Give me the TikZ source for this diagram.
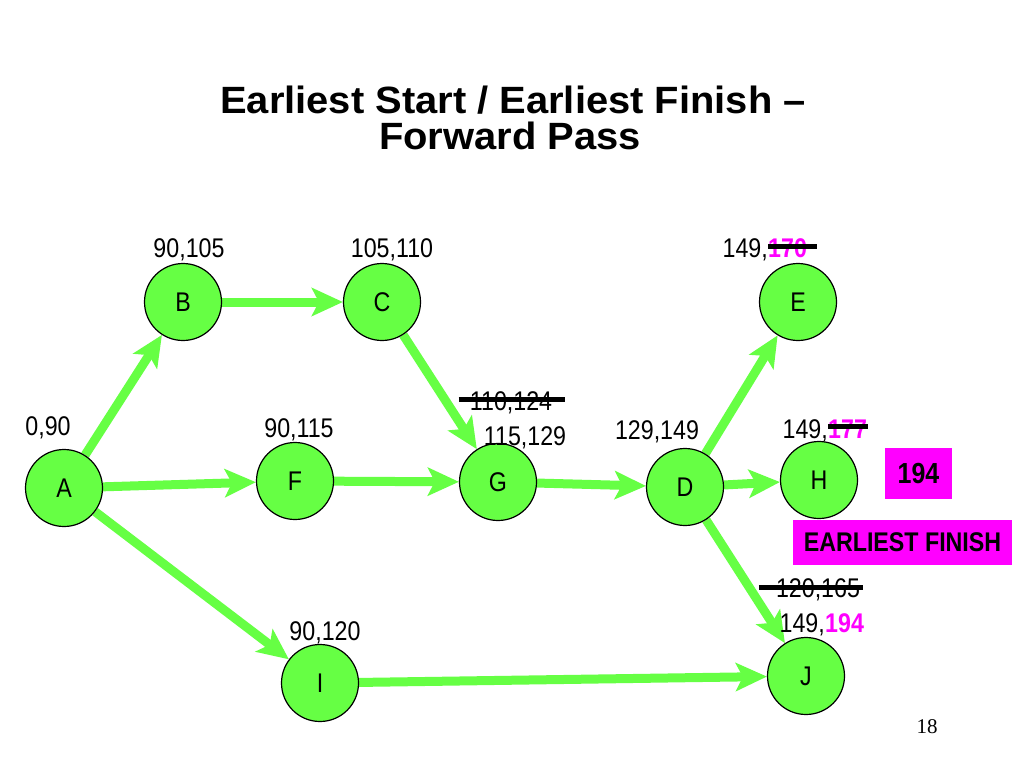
\documentclass[tikz,border=0pt]{standalone}
\usepackage{fontspec}
\setmainfont{Liberation Sans}
\newfontfamily\labfont{Liberation Sans}[FakeStretch=0.86]
\newfontfamily\titlefont{Liberation Sans}[FakeStretch=1.05]
\newfontfamily\numfont{Liberation Serif}
\usetikzlibrary{arrows.meta,calc}
\definecolor{ngreen}{RGB}{102,255,68}
\definecolor{mag}{RGB}{255,0,255}
\pgfdeclarelayer{bgfill}
\pgfdeclarelayer{edges}
\pgfsetlayers{bgfill,edges,main}
\begin{document}
\begin{tikzpicture}[x=1pt,y=-1pt,
  nd/.style={circle, draw=black, line width=1.2pt, fill=ngreen, minimum size=77pt, inner sep=0pt,
    font=\labfont\fontsize{27}{30}\selectfont},
  arr/.style={draw=ngreen, line width=9pt, -{Stealth[length=31pt,width=28pt,inset=7pt]}},
  lab/.style={font=\labfont\fontsize{27}{30}\selectfont, inner sep=0pt},
  mb/.style={font=\labfont\bfseries\fontsize{27}{30}\selectfont, text=mag, inner sep=0pt},
  strike/.style={line width=5pt, draw=black},
  magbox/.style={fill=mag, inner sep=0pt, font=\labfont\bfseries\fontsize{27}{30}\selectfont},
  ttl/.style={font=\titlefont\bfseries\fontsize{38}{42}\selectfont, inner sep=0pt}
]
\begin{pgfonlayer}{bgfill}
\fill[white] (0,0) rectangle (1024,768);
\end{pgfonlayer}
\useasboundingbox (0,0) rectangle (1024,768);

% title
\node[ttl, anchor=base] (t1) at (513,113) {Earliest Start / Earliest Finish –};
\node[ttl, anchor=base] (t2) at (510,149) {Forward Pass};

% nodes
\node[nd] (A) at (64,488) {A};
\node[nd] (B) at (183,302) {B};
\node[nd] (C) at (382,302) {C};
\node[nd] (F) at (295,481) {F};
\node[nd] (G) at (498,482) {G};
\node[nd] (D) at (685,487) {D};
\node[nd] (E) at (798,302) {E};
\node[nd] (H) at (819,480) {H};
\node[nd] (I) at (320,683) {I};
\node[nd] (J) at (806,676) {J};

% connectors
\begin{pgfonlayer}{edges}
\draw[arr] (A) -- (B);
\draw[arr] (B) -- (C);
\draw[arr] (C) -- (G);
\draw[arr] (A) -- (F);
\draw[arr] (F) -- (G);
\draw[arr] (G) -- (D);
\draw[arr] (D) -- (E);
\draw[arr] (D) -- (H);
\draw[arr] (D) -- (J);
\draw[arr] (A) -- (I);
\draw[arr] (I) -- (J);
\end{pgfonlayer}

% labels
\node[lab, anchor=base] (lB) at (189,257) {90,105};
\node[lab, anchor=base] (lC) at (392,257) {105,110};
\node[lab, anchor=base] (lA) at (48,435) {0,90};
\node[lab, anchor=base] (lF) at (299,437) {90,115};
\node[lab, anchor=base] (lG1) at (511,410) {110,124};
\node[lab, anchor=base] (lG2) at (525,445) {115,129};
\node[lab, anchor=base] (lD) at (657,439) {129,149};
\node[lab, anchor=base east] (lE1) at (768,257) {149,};
\node[mb, anchor=base west] (lE2) at (768,257) {170};
\node[lab, anchor=base east] (lH1) at (828,438) {149,};
\node[mb, anchor=base west] (lH2) at (828,438) {177};
\node[lab, anchor=base] (lJ1) at (818,597) {120,165};
\node[lab, anchor=base east] (lJ2) at (825,632) {149,};
\node[mb, anchor=base west] (lJ3) at (825,632) {194};
\node[lab, anchor=base] (lI) at (325,640) {90,120};

% strike-through lines
\draw[strike] ($(lG1.base west)+(-11,-11)$) -- ($(lG1.base east)+(13,-11)$);
\draw[strike] ($(lE2.base west)+(0,-11)$) -- ($(lE2.base east)+(10,-11)$);
\draw[strike] ($(lH2.base west)+(0,-12)$) -- ($(lH2.base east)+(1,-12)$);
\draw[strike] ($(lJ1.base west)+(-17,-10)$) -- ($(lJ1.base east)+(3,-10)$);

% magenta boxes
\node[magbox, minimum width=67pt, minimum height=51pt, font=\labfont\bfseries\fontsize{29}{32}\selectfont] (b194) at (918.5,473.5) {194};
\node[magbox, minimum width=219pt, minimum height=45pt] (bEF) at (902.5,542.5) {EARLIEST FINISH};

% slide number
\node[font=\numfont\fontsize{21}{24}\selectfont, inner sep=0pt, anchor=base] (num) at (927,733) {18};
\end{tikzpicture}
\end{document}
